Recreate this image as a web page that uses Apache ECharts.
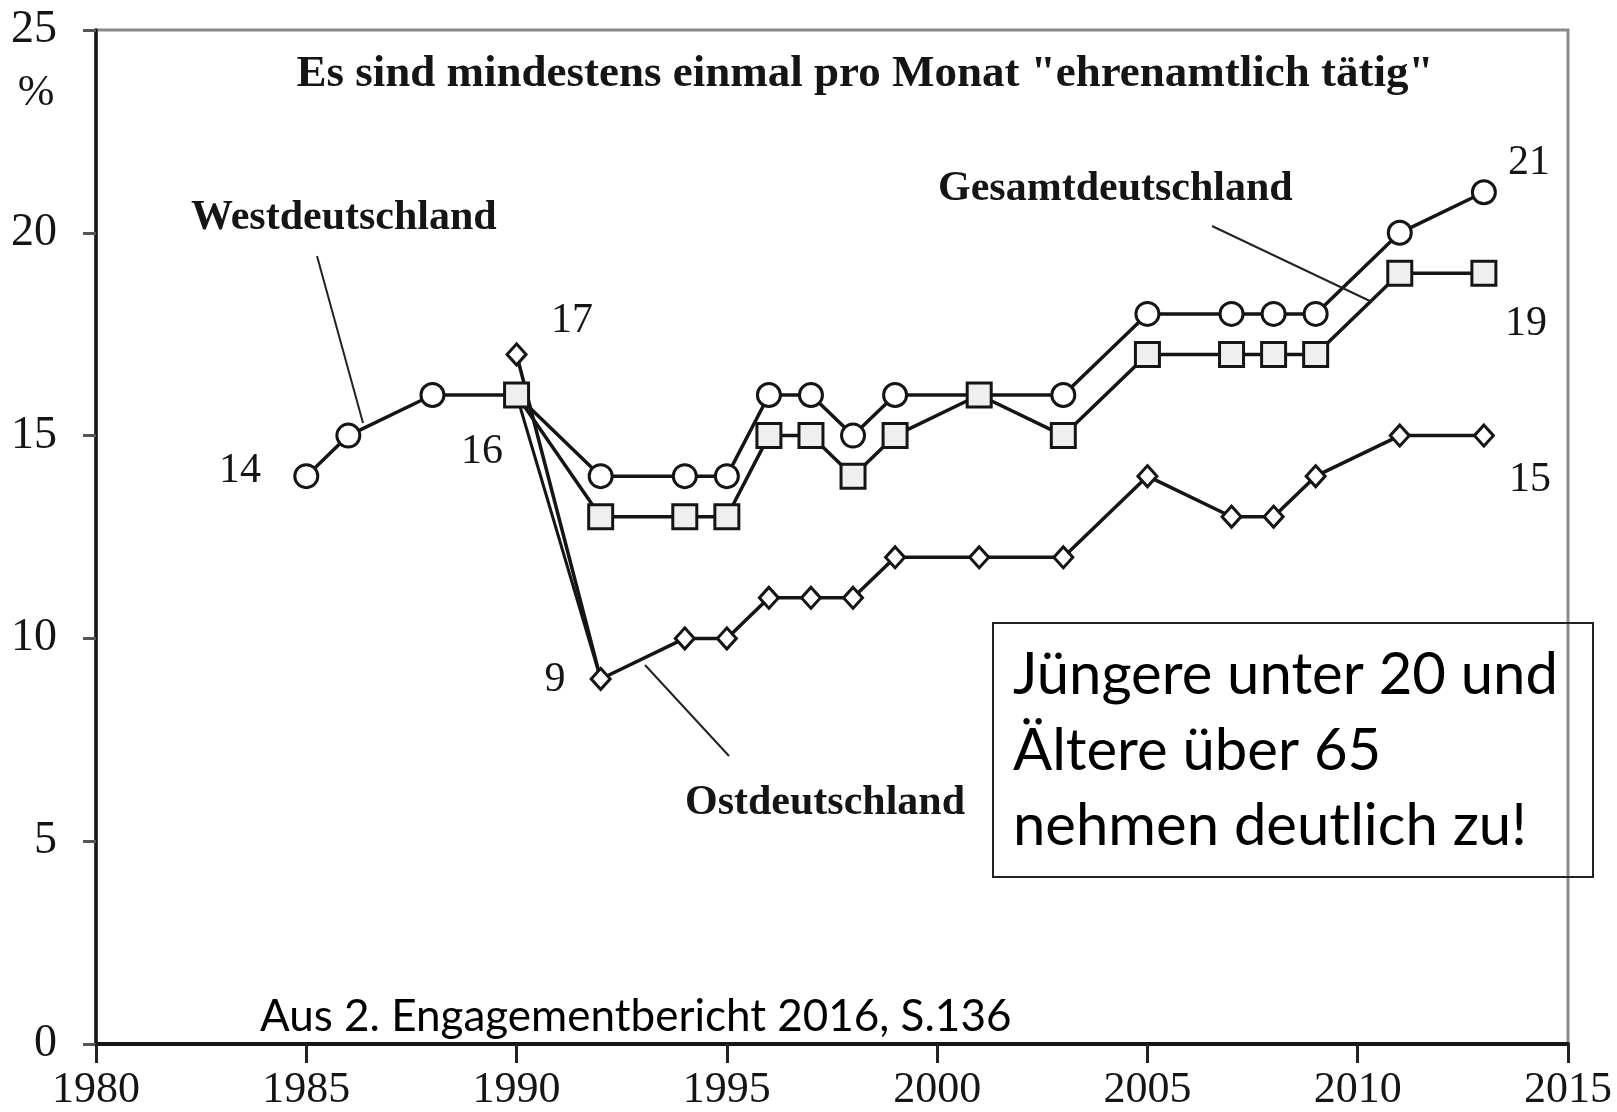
<!DOCTYPE html>
<html>
<head>
<meta charset="utf-8">
<script src="https://cdn.jsdelivr.net/npm/echarts@6/dist/echarts.min.js"></script>
<style>
  html, body { margin: 0; padding: 0; background: #fff; }
  #chart { width: 1617px; height: 1112px; }
</style>
</head>
<body>
<div id="chart"></div>
<script>
// ---------- data ----------
const westYears = [1985, 1986, 1988, 1990, 1992, 1994, 1995, 1996, 1997, 1998, 1999, 2001, 2003, 2005, 2007, 2008, 2009, 2011, 2013]
const westValues = [14, 15, 16, 16, 14, 14, 14, 16, 16, 15, 16, 16, 16, 18, 18, 18, 18, 20, 21]

const gesamtYears = [1990, 1992, 1994, 1995, 1996, 1997, 1998, 1999, 2001, 2003, 2005, 2007, 2008, 2009, 2011, 2013]
const gesamtValues = [16, 13, 13, 13, 15, 15, 14, 15, 16, 15, 17, 17, 17, 17, 19, 19]

const ostYears = [1990, 1992, 1994, 1995, 1996, 1997, 1998, 1999, 2001, 2003, 2005, 2007, 2008, 2009, 2011, 2013]
const ostValues = [17, 9, 10, 10, 11, 11, 11, 12, 12, 12, 14, 13, 13, 14, 15, 15]

// second steep stroke from the 1990 junction down to the East value
const connectorYears = [1990, 1992]
const connectorValues = [16, 9]

const xTicks = [1980, 1985, 1990, 1995, 2000, 2005, 2010, 2015]
const yTicks = [0, 5, 10, 15, 20, 25]

const toPairs = (xs, ys) => xs.map((x, i) => [x, ys[i]])

// ---------- chart ----------
const chart = echarts.init(document.getElementById('chart'))

const serif = '"Liberation Serif", "DejaVu Serif", serif'
const sans = 'Lato, "Open Sans", sans-serif'
const ink = '#151515'

const lineBase = {
  type: 'line',
  animation: false,
  silent: true,
  lineStyle: { color: ink, width: 3.5 }
}

const option = {
  animation: false,
  backgroundColor: '#fff',
  grid: {
    left: 96, right: 49, top: 30, bottom: 65,
    show: true, borderColor: '#8a8a8a', borderWidth: 3, backgroundColor: 'transparent'
  },
  xAxis: {
    type: 'value', min: xTicks[0], max: xTicks[xTicks.length - 1], interval: 5,
    axisLine: { show: true, lineStyle: { color: ink, width: 4 } },
    axisTick: { show: true, length: 19, lineStyle: { color: '#222', width: 3 } },
    axisLabel: {
      fontFamily: serif, fontSize: 44, color: ink, margin: 24,
      showMaxLabel: true, showMinLabel: true,
      formatter: (v) => String(v)
    },
    splitLine: { show: false }
  },
  yAxis: {
    type: 'value', min: yTicks[0], max: yTicks[yTicks.length - 1], interval: 5,
    axisLine: { show: true, lineStyle: { color: ink, width: 3.5 } },
    axisTick: { show: true, length: 13, lineStyle: { color: '#555', width: 3 } },
    axisLabel: { fontFamily: serif, fontSize: 46, color: ink, margin: 39 },
    splitLine: { show: false }
  },
  series: [
    {
      ...lineBase, name: 'Ostdeutschland', z: 2,
      data: toPairs(ostYears, ostValues),
      symbol: 'diamond', symbolSize: [19, 21],
      itemStyle: { color: '#fff', borderColor: ink, borderWidth: 3 }
    },
    {
      ...lineBase, name: 'connector', z: 2,
      data: toPairs(connectorYears, connectorValues),
      symbol: 'none', lineStyle: { color: ink, width: 3 }
    },
    {
      ...lineBase, name: 'Westdeutschland', z: 3,
      data: toPairs(westYears, westValues),
      symbol: 'circle', symbolSize: 23,
      itemStyle: { color: '#fff', borderColor: ink, borderWidth: 3 }
    },
    {
      ...lineBase, name: 'Gesamtdeutschland', z: 4,
      data: toPairs(gesamtYears, gesamtValues),
      symbol: 'rect', symbolSize: 24,
      itemStyle: { color: '#efefef', borderColor: ink, borderWidth: 3 }
    }
  ],
  graphic: [
    // title and axis unit
    { type: 'text', x: 865, y: 74, style: { text: 'Es sind mindestens einmal pro Monat "ehrenamtlich tätig"', font: 'bold 45px ' + serif, fill: ink, align: 'center', verticalAlign: 'middle' }, z: 10 },
    { type: 'text', x: 36, y: 93, style: { text: '%', font: '44px ' + serif, fill: ink, align: 'center', verticalAlign: 'middle' }, z: 10 },

    // series names with pointer lines
    { type: 'text', x: 191, y: 218, style: { text: 'Westdeutschland', font: 'bold 42px ' + serif, fill: ink, verticalAlign: 'middle' }, z: 10 },
    { type: 'line', shape: { x1: 317, y1: 256, x2: 363, y2: 423 }, style: { stroke: '#222', lineWidth: 2 }, z: 5 },
    { type: 'text', x: 938, y: 189, style: { text: 'Gesamtdeutschland', font: 'bold 42px ' + serif, fill: ink, verticalAlign: 'middle' }, z: 10 },
    { type: 'line', shape: { x1: 1212, y1: 226, x2: 1372, y2: 302 }, style: { stroke: '#222', lineWidth: 2 }, z: 5 },
    { type: 'text', x: 685, y: 803, style: { text: 'Ostdeutschland', font: 'bold 42px ' + serif, fill: ink, verticalAlign: 'middle' }, z: 10 },
    { type: 'line', shape: { x1: 729, y1: 756, x2: 645, y2: 665 }, style: { stroke: '#222', lineWidth: 2 }, z: 5 },

    // value call-outs
    { type: 'text', x: 572, y: 321, style: { text: '17', font: '42px ' + serif, fill: ink, align: 'center', verticalAlign: 'middle' }, z: 10 },
    { type: 'text', x: 482, y: 452, style: { text: '16', font: '42px ' + serif, fill: ink, align: 'center', verticalAlign: 'middle' }, z: 10 },
    { type: 'text', x: 240, y: 471, style: { text: '14', font: '42px ' + serif, fill: ink, align: 'center', verticalAlign: 'middle' }, z: 10 },
    { type: 'text', x: 555, y: 680, style: { text: '9', font: '42px ' + serif, fill: ink, align: 'center', verticalAlign: 'middle' }, z: 10 },
    { type: 'text', x: 1529, y: 163, style: { text: '21', font: '42px ' + serif, fill: ink, align: 'center', verticalAlign: 'middle' }, z: 10 },
    { type: 'text', x: 1526, y: 324, style: { text: '19', font: '42px ' + serif, fill: ink, align: 'center', verticalAlign: 'middle' }, z: 10 },
    { type: 'text', x: 1530, y: 480, style: { text: '15', font: '42px ' + serif, fill: ink, align: 'center', verticalAlign: 'middle' }, z: 10 },

    // note box
    { type: 'rect', shape: { x: 993, y: 623, width: 600, height: 254 }, style: { fill: 'rgba(255,255,255,0)', stroke: '#222', lineWidth: 2 }, z: 8 },
    { type: 'text', x: 1013, y: 675, style: { text: 'Jüngere unter 20 und', font: '58px ' + sans, fill: '#000', verticalAlign: 'middle' }, z: 10 },
    { type: 'text', x: 1013, y: 751, style: { text: 'Ältere über 65', font: '58px ' + sans, fill: '#000', verticalAlign: 'middle' }, z: 10 },
    { type: 'text', x: 1013, y: 826, style: { text: 'nehmen deutlich zu!', font: '58px ' + sans, fill: '#000', verticalAlign: 'middle' }, z: 10 },

    // source
    { type: 'text', x: 260, y: 1017, style: { text: 'Aus 2. Engagementbericht 2016, S.136', font: '44px ' + sans, fill: '#000', verticalAlign: 'middle' }, z: 10 }
  ]
}

chart.setOption(option)
</script>
</body>
</html>
